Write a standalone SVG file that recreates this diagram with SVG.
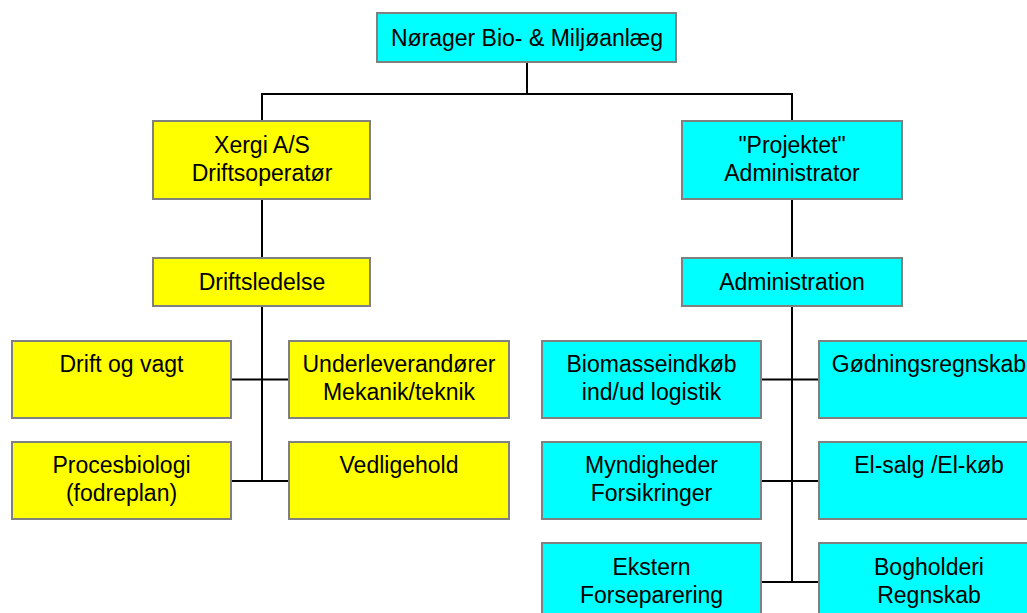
<svg xmlns="http://www.w3.org/2000/svg" width="1027" height="613" viewBox="0 0 1027 613">
<style>
.box{stroke:#808080;stroke-width:2}
.y{fill:#ffff00}
.c{fill:#00ffff}
text{font-family:"Liberation Sans",Arial,sans-serif;font-size:23px;fill:#000;text-anchor:middle}
.conn line{stroke:#000;stroke-width:2}
</style>
<rect width="1027" height="613" fill="#fff"/>
<g class="conn">
<line x1="527" y1="62" x2="527" y2="94"/>
<line x1="262" y1="94" x2="793" y2="94"/>
<line x1="262" y1="93" x2="262" y2="121"/>
<line x1="792" y1="93" x2="792" y2="121"/>
<line x1="262" y1="199" x2="262" y2="258"/>
<line x1="262" y1="306" x2="262" y2="481"/>
<line x1="231" y1="379.5" x2="289" y2="379.5"/>
<line x1="231" y1="481" x2="289" y2="481"/>
<line x1="792" y1="199" x2="792" y2="258"/>
<line x1="792" y1="306" x2="792" y2="582"/>
<line x1="761" y1="379.5" x2="819" y2="379.5"/>
<line x1="761" y1="481" x2="819" y2="481"/>
<line x1="761" y1="582" x2="819" y2="582"/>
</g>
<g id="n-top"><rect class="box c" x="377" y="13" width="299" height="49"/><text x="527" y="46">Nørager Bio- &amp; Miljøanlæg</text></g>
<g id="n-xergi"><rect class="box y" x="153" y="121" width="217" height="78"/><text x="262" y="153">Xergi A/S</text><text x="262" y="181">Driftsoperatør</text></g>
<g id="n-projekt"><rect class="box c" x="682" y="121" width="220" height="78"/><text x="792" y="153">"Projektet"</text><text x="792" y="181">Administrator</text></g>
<g id="n-driftsledelse"><rect class="box y" x="153" y="258" width="217" height="48"/><text x="262" y="290">Driftsledelse</text></g>
<g id="n-administration"><rect class="box c" x="682" y="258" width="220" height="48"/><text x="792" y="290">Administration</text></g>
<g id="n-drift"><rect class="box y" x="12" y="341" width="219" height="77"/><text x="121.5" y="372">Drift og vagt</text></g>
<g id="n-under"><rect class="box y" x="289" y="341" width="220" height="77"/><text x="399" y="372">Underleverandører</text><text x="399" y="400">Mekanik/teknik</text></g>
<g id="n-proces"><rect class="box y" x="12" y="442" width="219" height="77"/><text x="121.5" y="473">Procesbiologi</text><text x="121.5" y="501">(fodreplan)</text></g>
<g id="n-vedlige"><rect class="box y" x="289" y="442" width="220" height="77"/><text x="399" y="473">Vedligehold</text></g>
<g id="n-biomasse"><rect class="box c" x="542" y="341" width="219" height="77"/><text x="651.5" y="372">Biomasseindkøb</text><text x="651.5" y="400">ind/ud logistik</text></g>
<g id="n-goedning"><rect class="box c" x="819" y="341" width="220" height="77"/><text x="929" y="372">Gødningsregnskab</text></g>
<g id="n-myndig"><rect class="box c" x="542" y="442" width="219" height="77"/><text x="651.5" y="473">Myndigheder</text><text x="651.5" y="501">Forsikringer</text></g>
<g id="n-elsalg"><rect class="box c" x="819" y="442" width="220" height="77"/><text x="929" y="473">El-salg /El-køb</text></g>
<g id="n-ekstern"><rect class="box c" x="542" y="543" width="219" height="77"/><text x="651.5" y="575">Ekstern</text><text x="651.5" y="603">Forseparering</text></g>
<g id="n-bogholderi"><rect class="box c" x="819" y="543" width="220" height="77"/><text x="929" y="575">Bogholderi</text><text x="929" y="603">Regnskab</text></g>
</svg>
